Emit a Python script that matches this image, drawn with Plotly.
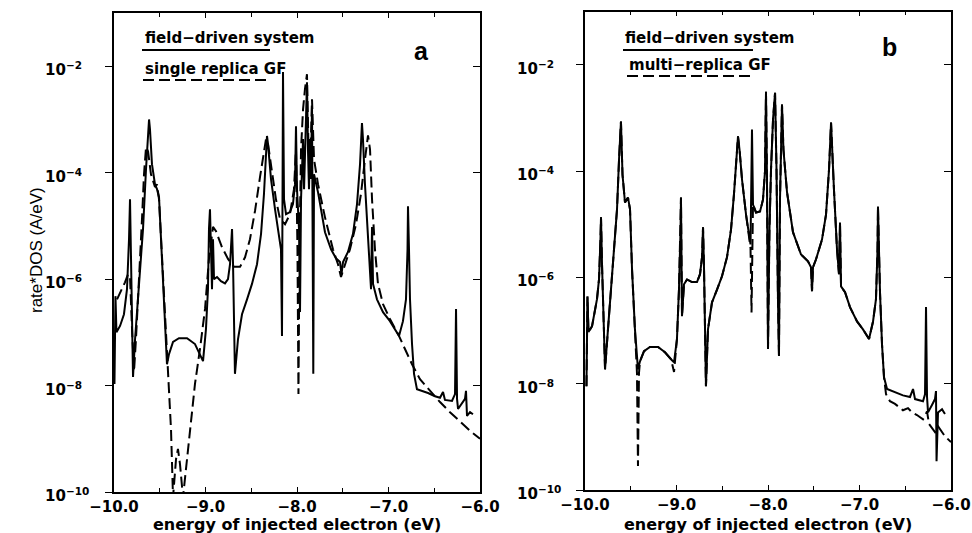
import numpy as np
import plotly.graph_objects as go

# ---------------- data (energy in eV, log10 of rate*DOS in A/eV) ----------------
a_solid_x = [-9.995, -9.984, -9.973, -9.934, -9.891, -9.858, -9.836, -9.825, -9.814, -9.792,
             -9.770, -9.727, -9.683, -9.650, -9.628, -9.617, -9.607, -9.585, -9.552, -9.530,
             -9.508, -9.486, -9.454, -9.421, -9.399, -9.355, -9.290, -9.202, -9.115, -9.049,
             -9.027, -8.995, -8.973, -8.962, -8.951, -8.940, -8.929, -8.918, -8.907, -8.874,
             -8.831, -8.787, -8.754, -8.732, -8.710, -8.699, -8.678, -8.645, -8.601, -8.546,
             -8.492, -8.437, -8.393, -8.361, -8.339, -8.328, -8.317, -8.284, -8.240, -8.197,
             -8.175, -8.164, -8.153, -8.142, -8.120, -8.077, -8.044, -8.022, -8.011, -8.000,
             -7.978, -7.967, -7.956, -7.934, -7.923, -7.902, -7.891, -7.880, -7.869, -7.858,
             -7.847, -7.836, -7.829, -7.822, -7.814, -7.770, -7.694, -7.628, -7.574, -7.530,
             -7.514, -7.497, -7.443, -7.388, -7.344, -7.311, -7.290, -7.279, -7.257, -7.224,
             -7.202, -7.191, -7.180, -7.169, -7.126, -7.060, -6.984, -6.929, -6.885, -6.842,
             -6.809, -6.792, -6.787, -6.776, -6.765, -6.743, -6.721, -6.689, -6.634, -6.568,
             -6.492, -6.437, -6.404, -6.383, -6.306, -6.273, -6.262, -6.251, -6.240, -6.197,
             -6.164, -6.153, -6.142, -6.109, -6.077]
a_solid_log = [-7.97, -6.32, -7.00, -6.88, -6.66, -6.19, -5.25, -4.50, -5.62, -7.84,
               -7.13, -6.19, -5.06, -3.93, -3.28, -3.00, -3.18, -3.84, -4.22, -4.31,
               -4.46, -5.25, -6.56, -7.60, -7.41, -7.18, -7.11, -7.11, -7.22, -7.46,
               -7.54, -6.94, -6.19, -5.06, -4.69, -5.44, -6.19, -5.25, -6.00, -5.96,
               -6.04, -6.08, -6.00, -5.72, -5.06, -5.72, -7.78, -7.13, -6.66, -6.38,
               -6.09, -5.72, -5.15, -4.40, -3.65, -3.31, -3.46, -4.12, -4.69, -5.15,
               -5.44, -7.07, -2.11, -4.50, -4.78, -4.74, -4.59, -4.22, -3.13, -4.31,
               -5.06, -6.62, -4.50, -3.37, -4.31, -3.00, -2.30, -3.56, -4.31, -3.37,
               -4.12, -2.75, -4.50, -7.78, -4.03, -4.37, -5.12, -5.44, -5.61, -5.68,
               -5.91, -5.68, -5.49, -5.15, -4.59, -3.84, -3.07, -3.37, -4.22, -5.25,
               -5.91, -6.19, -5.02, -6.09, -6.38, -6.62, -6.79, -6.94, -7.07, -6.79,
               -6.38, -5.44, -4.63, -5.44, -6.38, -7.22, -7.78, -8.07, -8.10, -8.14,
               -8.20, -8.23, -8.12, -8.27, -8.29, -8.16, -6.56, -8.25, -8.44, -8.33,
               -8.25, -8.10, -8.57, -8.50, -8.54]

a_dashed_x = [-9.967, -9.923, -9.880, -9.847, -9.825, -9.803, -9.781, -9.760, -9.727, -9.694,
              -9.672, -9.650, -9.628, -9.596, -9.552, -9.530, -9.508, -9.475, -9.443, -9.410,
              -9.377, -9.355, -9.322, -9.301, -9.279, -9.246, -9.213, -9.169, -9.115, -9.060,
              -9.005, -8.962, -8.918, -8.885, -8.820, -8.754, -8.689, -8.623, -8.568, -8.514,
              -8.459, -8.404, -8.361, -8.339, -8.317, -8.273, -8.230, -8.186, -8.131, -8.077,
              -8.033, -8.011, -7.995, -7.984, -7.973, -7.956, -7.934, -7.913, -7.891, -7.874,
              -7.858, -7.836, -7.814, -7.770, -7.694, -7.607, -7.552, -7.519, -7.486, -7.421,
              -7.355, -7.301, -7.257, -7.224, -7.202, -7.180, -7.148, -7.115, -7.060, -6.984,
              -6.896, -6.820, -6.743, -6.656, -6.546, -6.437, -6.328, -6.219, -6.109, -6.000]
a_dashed_log = [-6.38, -6.23, -6.06, -5.91, -5.96, -6.94, -7.73, -7.13, -6.10, -4.87,
                -4.03, -3.52, -3.60, -4.03, -4.27, -4.22, -4.50, -5.62, -6.85, -7.88,
                -8.82, -10.10, -9.38, -9.19, -9.47, -10.10, -9.56, -8.78, -7.97, -7.31,
                -6.56, -5.62, -5.02, -5.10, -5.40, -5.62, -5.77, -5.77, -5.59, -5.25,
                -4.72, -4.08, -3.56, -3.37, -3.46, -4.03, -4.50, -4.87, -4.97, -4.78,
                -4.31, -3.56, -5.44, -8.16, -5.44, -3.56, -2.81, -2.43, -2.15, -3.56,
                -4.00, -2.62, -3.75, -4.22, -4.84, -5.44, -5.72, -5.96, -5.77, -5.44,
                -4.97, -4.40, -3.75, -3.30, -3.56, -4.50, -5.44, -6.09, -6.47, -6.75,
                -7.03, -7.31, -7.60, -7.88, -8.10, -8.31, -8.50, -8.67, -8.85, -9.00]

b_solid_x = [-9.984, -9.973, -9.962, -9.923, -9.869, -9.847, -9.831, -9.825, -9.814, -9.798,
             -9.781, -9.749, -9.716, -9.683, -9.650, -9.628, -9.607, -9.590, -9.563, -9.530,
             -9.508, -9.486, -9.454, -9.421, -9.399, -9.355, -9.290, -9.202, -9.126, -9.060,
             -9.027, -8.995, -8.973, -8.956, -8.951, -8.940, -8.918, -8.885, -8.831, -8.776,
             -8.743, -8.721, -8.710, -8.699, -8.678, -8.656, -8.612, -8.557, -8.503, -8.448,
             -8.404, -8.372, -8.350, -8.328, -8.311, -8.284, -8.240, -8.208, -8.191, -8.175,
             -8.164, -8.131, -8.087, -8.055, -8.033, -8.022, -8.011, -8.000, -7.984, -7.967,
             -7.945, -7.923, -7.907, -7.891, -7.880, -7.869, -7.858, -7.847, -7.831, -7.792,
             -7.727, -7.639, -7.563, -7.530, -7.519, -7.508, -7.475, -7.410, -7.366, -7.333,
             -7.311, -7.301, -7.279, -7.246, -7.224, -7.213, -7.202, -7.158, -7.104, -7.027,
             -6.962, -6.896, -6.852, -6.820, -6.803, -6.798, -6.787, -6.776, -6.754, -6.732,
             -6.699, -6.612, -6.525, -6.448, -6.415, -6.393, -6.306, -6.284, -6.273, -6.262,
             -6.251, -6.208, -6.175, -6.164, -6.158, -6.142, -6.098, -6.066]
b_solid_log = [-8.05, -6.36, -7.03, -6.92, -6.41, -6.04, -5.29, -4.87, -5.76, -6.98,
               -7.73, -6.98, -6.23, -5.57, -4.72, -3.78, -3.07, -4.07, -4.59, -4.50,
               -4.72, -5.85, -6.98, -7.73, -7.58, -7.39, -7.31, -7.31, -7.41, -7.54,
               -7.60, -7.16, -6.23, -5.10, -4.50, -6.73, -6.13, -6.04, -6.09, -6.09,
               -5.94, -5.62, -5.06, -5.85, -8.05, -6.98, -6.47, -6.23, -5.98, -5.62,
               -5.10, -4.44, -3.78, -3.35, -3.60, -4.16, -4.82, -5.19, -5.38, -3.22,
               -4.63, -4.78, -4.76, -4.54, -4.01, -2.51, -4.16, -7.35, -5.10, -3.97,
               -3.03, -2.53, -3.97, -6.41, -7.48, -4.54, -3.41, -2.75, -3.60, -4.40,
               -5.15, -5.57, -5.70, -5.81, -6.26, -5.81, -5.66, -5.29, -4.82, -3.97,
               -3.09, -3.41, -4.35, -5.47, -5.94, -4.97, -6.17, -6.28, -6.56, -6.83,
               -6.98, -7.16, -6.83, -6.41, -5.47, -4.67, -5.47, -6.28, -7.26, -7.88,
               -8.10, -8.16, -8.22, -8.25, -8.10, -8.29, -8.33, -8.20, -6.56, -8.25,
               -8.54, -8.40, -8.29, -8.14, -9.46, -8.54, -8.48, -8.57]

b_dashed_x = [-9.984, -9.973, -9.962, -9.923, -9.869, -9.847, -9.831, -9.825, -9.814, -9.798,
              -9.781, -9.749, -9.716, -9.683, -9.650, -9.628, -9.607, -9.590, -9.563, -9.530,
              -9.508, -9.486, -9.454, -9.432, -9.421, -9.410, -9.399, -9.355, -9.290, -9.202,
              -9.126, -9.060, -9.027, -8.995, -8.973, -8.956, -8.951, -8.940, -8.918, -8.885,
              -8.831, -8.776, -8.743, -8.721, -8.710, -8.699, -8.678, -8.656, -8.612, -8.557,
              -8.503, -8.448, -8.404, -8.372, -8.350, -8.328, -8.311, -8.284, -8.240, -8.208,
              -8.191, -8.180, -8.170, -8.164, -8.131, -8.087, -8.055, -8.033, -8.022, -8.011,
              -8.000, -7.984, -7.967, -7.945, -7.923, -7.907, -7.891, -7.880, -7.869, -7.858,
              -7.847, -7.831, -7.792, -7.727, -7.639, -7.563, -7.530, -7.519, -7.508, -7.475,
              -7.410, -7.366, -7.333, -7.311, -7.301, -7.279, -7.246, -7.224, -7.213, -7.202,
              -7.158, -7.104, -7.027, -6.962, -6.896, -6.852, -6.820, -6.803, -6.798, -6.787,
              -6.776, -6.754, -6.732, -6.710, -6.667, -6.612, -6.525, -6.470, -6.426, -6.372,
              -6.306, -6.284, -6.262, -6.240, -6.175, -6.142, -6.109, -6.066, -6.000]
b_dashed_log = [-8.05, -6.36, -7.03, -6.92, -6.41, -6.04, -5.29, -4.87, -5.76, -6.98,
                -7.73, -6.98, -6.23, -5.57, -4.72, -3.78, -3.07, -4.07, -4.59, -4.50,
                -4.72, -5.85, -6.98, -7.80, -9.55, -7.80, -7.58, -7.39, -7.31, -7.31,
                -7.41, -7.54, -7.78, -7.16, -6.23, -5.10, -4.50, -6.73, -6.13, -6.04,
                -6.09, -6.09, -5.94, -5.62, -5.06, -5.85, -8.05, -6.98, -6.47, -6.23,
                -5.98, -5.62, -5.10, -4.44, -3.78, -3.35, -3.60, -4.16, -4.82, -5.19,
                -5.45, -6.66, -5.00, -4.63, -4.78, -4.76, -4.54, -4.01, -2.51, -4.16,
                -7.35, -5.10, -3.97, -3.03, -2.53, -3.97, -6.41, -7.48, -4.54, -3.41,
                -2.75, -3.60, -4.40, -5.15, -5.57, -5.70, -5.81, -6.26, -5.81, -5.66,
                -5.29, -4.82, -3.97, -3.09, -3.41, -4.35, -5.47, -5.94, -4.97, -6.17,
                -6.28, -6.56, -6.83, -6.98, -7.16, -6.83, -6.41, -5.47, -4.67, -5.47,
                -6.28, -7.26, -7.88, -8.20, -8.33, -8.38, -8.50, -8.46, -8.54, -8.59,
                -8.67, -8.61, -8.52, -8.76, -8.91, -8.80, -8.89, -8.99, -9.10]

x_tick_vals = [-10.0, -9.0, -8.0, -7.0, -6.0]
x_tick_text = ["\u221210.0", "\u22129.0", "\u22128.0", "\u22127.0", "\u22126.0"]
x_minor_vals = [-9.5, -8.5, -7.5, -6.5]
y_tick_exp = [-10, -8, -6, -4, -2]
y_tick_text = ["10<sup>\u221210</sup>", "10<sup>\u22128</sup>", "10<sup>\u22126</sup>",
               "10<sup>\u22124</sup>", "10<sup>\u22122</sup>"]

legend_a = ["field\u2212driven system", "single replica GF"]
legend_b = ["field\u2212driven system", "multi\u2212replica GF"]
panel_labels = ["a", "b"]
x_title = "energy of injected electron (eV)"
y_title = "rate*DOS (A/eV)"

# ---------------- figure ----------------
W, H = 972, 533
def fx(p):
    return p / W
def fy(p):
    return 1 - p / H

BOLD = dict(family="DejaVu Sans", size=15, color="black", weight="bold")
DASH = "11px,5px"

fig = go.Figure()

def add_panel(xs_d, ls_d, xs_s, ls_s, xa, ya):
    fig.add_trace(go.Scatter(x=xs_d, y=10.0 ** np.array(ls_d), mode="lines",
                             line=dict(color="black", width=2, dash=DASH),
                             xaxis=xa, yaxis=ya, showlegend=False, hoverinfo="skip"))
    fig.add_trace(go.Scatter(x=xs_s, y=10.0 ** np.array(ls_s), mode="lines",
                             line=dict(color="black", width=2),
                             xaxis=xa, yaxis=ya, showlegend=False, hoverinfo="skip"))

add_panel(a_dashed_x, a_dashed_log, a_solid_x, a_solid_log, "x", "y")
add_panel(b_dashed_x, b_dashed_log, b_solid_x, b_solid_log, "x2", "y2")
# carriers for right-side inward ticks
fig.add_trace(go.Scatter(x=[None], y=[None], xaxis="x", yaxis="y3", showlegend=False))
fig.add_trace(go.Scatter(x=[None], y=[None], xaxis="x2", yaxis="y4", showlegend=False))

yvals = [10.0 ** e for e in y_tick_exp]

def xaxis_cfg(dom, anchor):
    return dict(domain=dom, anchor=anchor, range=[-10, -6], tickvals=x_tick_vals,
                ticktext=x_tick_text, ticks="inside", ticklen=5, tickwidth=1.2,
                tickcolor="black", mirror="ticks", showline=True, linecolor="black",
                linewidth=1.5, showgrid=False, zeroline=False, tickfont=BOLD,
                automargin=False,
                minor=dict(tickvals=x_minor_vals, ticks="inside", ticklen=4,
                           tickwidth=1.2, tickcolor="black", showgrid=False))

def yaxis_cfg(dom, anchor):
    return dict(domain=dom, anchor=anchor, type="log", range=[-10, -1], tickvals=yvals,
                showticklabels=False, ticks="outside", ticklen=7, tickwidth=1.2,
                tickcolor="black", mirror=True, showline=True, linecolor="black",
                linewidth=1.5, showgrid=False, zeroline=False, automargin=False)

def yaxis_right(over, anchor):
    return dict(overlaying=over, anchor=anchor, side="right", type="log", range=[-10, -1],
                tickvals=yvals, showticklabels=False, ticks="inside", ticklen=7,
                tickwidth=1.2, tickcolor="black", showline=False, showgrid=False,
                zeroline=False, automargin=False)

ya_dom = [fy(492), fy(13)]
yb_dom = [fy(490), fy(11.5)]
fig.update_layout(
    width=W, height=H, margin=dict(l=0, r=0, t=0, b=0, autoexpand=False),
    paper_bgcolor="white", plot_bgcolor="white", showlegend=False,
    xaxis=xaxis_cfg([fx(114), fx(480)], "y"),
    yaxis=yaxis_cfg(ya_dom, "x"),
    xaxis2=xaxis_cfg([fx(585), fx(951)], "y2"),
    yaxis2=yaxis_cfg(yb_dom, "x2"),
    yaxis3=yaxis_right("y", "x"),
    yaxis4=yaxis_right("y2", "x2"),
)

ann = []
# y tick labels (left aligned, as in the original)
for yref, x0 in (("y", 43), ("y2", 515)):
    for e, t in zip(y_tick_exp, y_tick_text):
        ann.append(dict(x=fx(x0), xref="paper", y=e, yref=yref, text=t, showarrow=False,
                        xanchor="left", yanchor="middle", yshift=-3, font=BOLD))
# axis titles
XT = dict(BOLD, size=16)
ann.append(dict(x=fx(297), y=fy(524), xref="paper", yref="paper", text=x_title,
                showarrow=False, xanchor="center", yanchor="middle", font=XT))
ann.append(dict(x=fx(768), y=fy(524), xref="paper", yref="paper", text=x_title,
                showarrow=False, xanchor="center", yanchor="middle", font=XT))
ann.append(dict(x=fx(36), y=fy(250), xref="paper", yref="paper", text=y_title,
                textangle=-90, showarrow=False, xanchor="center", yanchor="middle",
                font=dict(family="Liberation Sans", size=17, color="black")))
# legend texts
for (x0, y1, y2, texts) in ((143, 38, 69, legend_a), (623, 38, 65, legend_b)):
    ann.append(dict(x=fx(x0), y=fy(y1), xref="paper", yref="paper", text=texts[0],
                    showarrow=False, xanchor="left", yanchor="middle", font=BOLD))
    ann.append(dict(x=fx(x0 + (0 if texts is legend_a else 4)), y=fy(y2), xref="paper",
                    yref="paper", text=texts[1], showarrow=False, xanchor="left",
                    yanchor="middle", font=BOLD))
# panel labels
for (xc, yb, lab) in ((421, 67, panel_labels[0]), (889, 63, panel_labels[1])):
    ann.append(dict(x=fx(xc), y=fy(yb), xref="paper", yref="paper", text=lab,
                    showarrow=False, xanchor="center", yanchor="bottom",
                    font=dict(family="Liberation Sans", size=25, color="black", weight="bold")))
fig.update_layout(annotations=ann)

shapes = []
for (x0, x1, y, dash) in ((142, 270, 50, "solid"), (143, 267, 80, DASH),
                          (623, 753, 50, "solid"), (627, 753, 76, DASH)):
    shapes.append(dict(type="line", xref="paper", yref="paper", x0=fx(x0), x1=fx(x1),
                       y0=fy(y), y1=fy(y), line=dict(color="black", width=2, dash=dash)))
fig.update_layout(shapes=shapes)

fig.write_html("out.html")
